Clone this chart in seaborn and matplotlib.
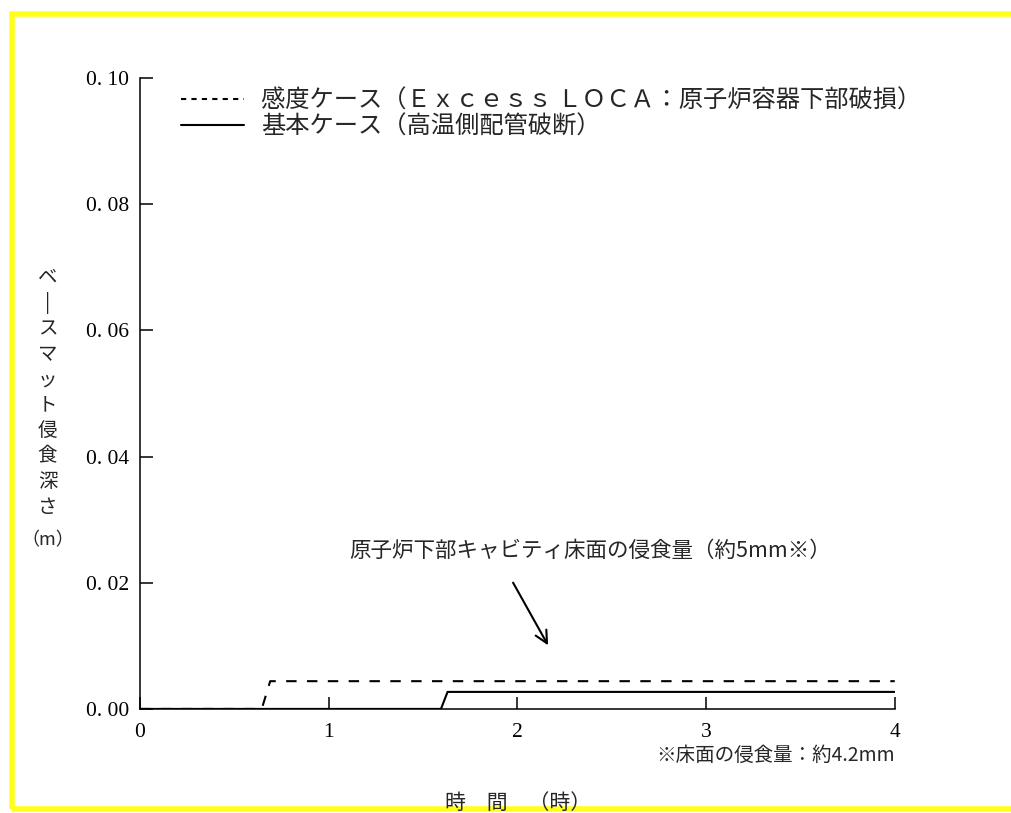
import pandas as pd
import matplotlib
matplotlib.use("Agg")
import matplotlib.pyplot as plt
import matplotlib.patches as patches
import seaborn as sns

# -----------------------------------------
# Data
# -----------------------------------------
time_excess = [0.0, 0.645, 0.69, 4.0]
depth_excess = [0.0, 0.0, 0.0044, 0.0044]

time_base = [0.0, 1.595, 1.63, 4.0]
depth_base = [0.0, 0.0, 0.0027, 0.0027]

label_excess = "感度ケース（Ｅｘｃｅｓｓ ＬＯＣＡ：原子炉容器下部破損）"
label_base = "基本ケース（高温側配管破断）"

x_ticks = [0, 1, 2, 3, 4]
x_tick_labels = ["0", "1", "2", "3", "4"]
y_ticks = [0.0, 0.02, 0.04, 0.06, 0.08, 0.10]
y_tick_labels = ["0. 00", "0. 02", "0. 04", "0. 06", "0. 08", "0. 10"]

df_excess = pd.DataFrame({"time": time_excess, "depth": depth_excess})
df_base = pd.DataFrame({"time": time_base, "depth": depth_base})

# -----------------------------------------
# Style
# -----------------------------------------
sns.set_style("ticks")
plt.rcParams["font.family"] = ["Noto Sans CJK JP", "DejaVu Sans"]

fig = plt.figure(figsize=(10.11, 8.13), dpi=100)
ax = fig.add_axes([0.1385, 0.128, 0.7465, 0.776])

sns.lineplot(data=df_excess, x="time", y="depth", ax=ax, color="black",
             linewidth=1.5, label=label_excess)
sns.lineplot(data=df_base, x="time", y="depth", ax=ax, color="black",
             linewidth=1.5, label=label_base)
ax.lines[0].set_linestyle((0, (5, 5)))

ax.set_xlim(0, 4)
ax.set_ylim(0, 0.10)
ax.set_xticks(x_ticks)
ax.set_xticklabels(x_tick_labels, family="Liberation Serif", fontsize=15.5)
ax.set_yticks(y_ticks)
ax.set_yticklabels(y_tick_labels, family="Liberation Serif", fontsize=15.5)
ax.tick_params(direction="in", length=9, width=1.1, pad=8, colors="black")
ax.tick_params(axis="x", pad=10)
ax.set_xlabel("")
ax.set_ylabel("")

for side in ["top", "right"]:
    ax.spines[side].set_visible(False)
for side in ["left", "bottom"]:
    ax.spines[side].set_linewidth(1.1)
    ax.spines[side].set_color("black")

leg = ax.legend(loc="upper left", bbox_to_anchor=(0.025, 1.02), frameon=False,
                handlelength=2.6, handletextpad=0.7, labelspacing=0.0,
                fontsize=17.5)
leg.get_lines()[0].set_linestyle((0, (2.5, 2.5)))

# annotation with arrow
ax.annotate("", xy=(2.17, 0.0097), xytext=(1.97, 0.0204),
            arrowprops=dict(arrowstyle="->", color="black", lw=1.5,
                            mutation_scale=22))
ax.text(1.11, 0.0251, "原子炉下部キャビティ床面の侵食量（約5mm※）",
        ha="left", va="center", fontsize=15.5)

# footnote
ax.text(4.0, -0.0073, "※床面の侵食量：約4.2mm", ha="right", va="center",
        fontsize=14)

# vertical y label
ylab = "ベ\n|\nス\nマ\nッ\nト\n侵\n食\n深\nさ"
fig.text(0.047, 0.518, ylab, ha="center", va="center", fontsize=14,
         linespacing=1.28)
fig.text(0.047, 0.335, "（m）", ha="center", va="center", fontsize=13)

# x label (partly under frame)
fig.text(0.512, 0.012, "時　間　（時）", ha="center", va="center", fontsize=15)

# yellow frame
frame = patches.Rectangle((0.012, 0.005), 1.2, 0.978, transform=fig.transFigure,
                          fill=False, edgecolor="#ffff1a", linewidth=4,
                          clip_on=False)
fig.patches.append(frame)

plt.savefig("out.png", dpi=100)
